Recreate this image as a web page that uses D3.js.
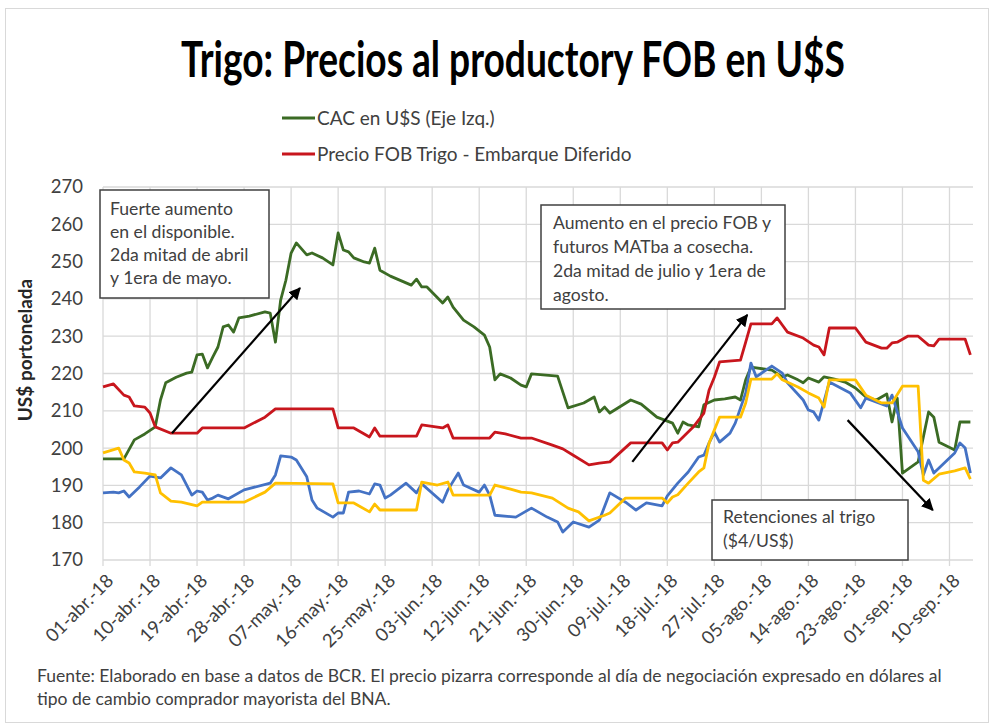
<!DOCTYPE html>
<html><head><meta charset="utf-8">
<script src="https://cdn.jsdelivr.net/npm/d3@7"></script>
<style>
body{margin:0;background:#fff}
svg{display:block}
text{font-family:Lato,'Noto Sans',sans-serif}
</style>
</head><body>
<svg id="chart" width="995" height="727"></svg>
<script>
// ---- data (day offset from 01-abr-2018, US$/t) ----
const tickDays = [0,9,18,27,36,45,54,63,72,81,90,99,108,117,126,135,144,153,162];
const tickLabels = ["01-abr.-18","10-abr.-18","19-abr.-18","28-abr.-18","07-may.-18","16-may.-18","25-may.-18","03-jun.-18","12-jun.-18","21-jun.-18","30-jun.-18","09-jul.-18","18-jul.-18","27-jul.-18","05-ago.-18","14-ago.-18","23-ago.-18","01-sep.-18","10-sep.-18"];
const yTicks = [170,180,190,200,210,220,230,240,250,260,270];

const cacUSD = [[0,197.1],[4,197.1],[6,202.2],[8,203.8],[10,205.7],[11,212.9],[12,217.5],[14,219],[16,220.1],[17,220.4],[18,225],[19,225.2],[20,221.5],[21,224.4],[22,227.1],[23,232.5],[24,233],[25,231.1],[26,234.9],[28,235.4],[31,236.5],[32,236.2],[33,228.4],[34,239.7],[35,245],[36,252.3],[37,255],[39,251.8],[40,252.3],[42,251],[44,249.1],[45,257.7],[46,253.1],[47,252.6],[48,251],[50,249.9],[51,249.6],[52,253.6],[53,247.7],[55,246.1],[59,243.7],[60,245.3],[61,243.2],[62,243.2],[65,238.9],[66,240.5],[67,237.8],[69,234.3],[71,232.5],[73,230.3],[74,227.1],[75,218.3],[76,219.9],[78,218.8],[80,216.9],[81,216.4],[82,219.9],[87,219.3],[89,210.8],[92,212.1],[94,213.7],[95,209.7],[96,211],[97,209.4],[101,212.9],[103,211.8],[106,208.3],[109,206.7],[110,204],[111,207],[112,206.2],[114,205.7],[115,211.6],[117,212.9],[119,213.2],[121,213.7],[122,212.9],[123,218.3],[124,221.7],[128,220.9],[130,219.1],[131,219.6],[133,218.3],[134,217.5],[135,218.8],[137,217.7],[138,219.1],[140,218.5],[142,217.7],[144,216.1],[146,213.7],[148,212.9],[150,214.5],[151,207],[152,213.4],[153,193.3],[156,196.3],[158,209.7],[159,208.3],[160,201.6],[163,199.5],[164,207],[166,207]];

const fobDiferido = [[0,216.4],[2,217.2],[4,214.2],[5,213.7],[6,211.3],[8,211],[9,209.4],[10,205.7],[13,204],[18,204],[19,205.4],[27,205.4],[31,208.3],[33,210.5],[44,210.5],[45,205.4],[48,205.4],[51,203],[52,205.4],[53,203.2],[60,203.2],[61,206.2],[65,205.4],[66,206.2],[67,202.7],[74,202.7],[75,204.3],[77,203.8],[80,202.7],[82,202.7],[86,200.8],[88,199.8],[90,198.1],[93,195.5],[95,196],[97,196.3],[101,201.4],[107,201.4],[108,199.5],[109,201.4],[110,201.6],[113,205.7],[115,209.4],[116,215.6],[117,219],[118,223.1],[122,223.6],[123,228.4],[124,233.3],[128,233.3],[129,234.9],[130,233],[131,231.1],[134,229.5],[136,227.6],[137,227.1],[138,225],[139,232.2],[144,232.2],[146,228.4],[149,226.8],[150,226.8],[151,228.2],[152,228.4],[154,230],[156,230],[158,227.6],[159,227.4],[160,229.2],[165,229.2],[166,225]];

const serieAzul = [[0,188],[2,188.2],[3,188],[4,188.5],[5,186.9],[7,189.6],[9,192.5],[11,192],[13,194.7],[15,192.8],[17,187.4],[18,188.5],[19,188.2],[20,186.1],[21,186.6],[22,187.4],[24,186.4],[27,188.8],[32,190.6],[33,192.8],[34,197.9],[36,197.6],[37,196.8],[39,192.3],[40,186.1],[41,183.9],[44,181.5],[45,182.6],[46,182.6],[47,188.2],[49,188.5],[51,187.7],[52,190.4],[53,190.1],[54,186.6],[55,187.4],[58,190.6],[60,188],[61,190.4],[65,185.5],[66,188.8],[68,193.3],[69,190.1],[72,188.2],[73,190.1],[74,187.4],[75,182],[79,181.5],[82,183.9],[85,181.5],[87,180.2],[88,177.5],[90,180.2],[93,178.8],[95,180.7],[97,188],[100,185.5],[102,183.4],[104,185.3],[107,184.5],[108,187.2],[110,190.6],[112,193.6],[114,197.6],[115,198.1],[116,201.4],[117,204.3],[118,201.6],[120,204],[121,206.7],[123,214.8],[124,222.8],[125,219.1],[128,222],[130,220.1],[131,217.5],[134,212.9],[135,210.2],[136,209.7],[137,207.5],[139,217.7],[143,214.8],[145,210.8],[146,213.4],[150,211.3],[151,214.2],[153,205.4],[156,199],[157,192.8],[158,196.8],[159,193.3],[163,198.7],[164,201.4],[165,200],[166,193.3]];

const serieAmarilla = [[0,198.7],[3,200],[4,196.8],[5,196],[6,193.6],[8,193.3],[10,192.8],[11,188],[13,185.8],[15,185.5],[18,184.5],[19,185.5],[27,185.5],[31,188.2],[33,190.6],[44,190.4],[45,185.3],[48,185.3],[51,182.9],[52,185],[53,183.4],[60,183.4],[61,190.9],[64,190.1],[66,190.9],[67,187.4],[74,187.4],[75,190.1],[78,189],[80,188.2],[82,188],[86,186.6],[89,183.9],[91,182.9],[93,180.5],[96,182],[97,182.6],[100,186.6],[107,186.6],[108,185.3],[109,186.9],[110,187.5],[112,190.6],[114,193.6],[115,194.7],[116,201.4],[118,208.3],[122,208.3],[123,212.1],[124,218.5],[128,218.5],[129,219.9],[130,218.3],[133,216.4],[135,214.8],[137,213.4],[138,211],[139,218.3],[144,218.3],[146,214.2],[149,212.1],[151,212.1],[153,216.6],[156,216.6],[157,191.4],[158,190.6],[160,193],[163,193.9],[165,194.7],[166,191.7]];

const legendLabels = ["CAC en U$S (Eje Izq.)","Precio FOB Trigo - Embarque Diferido"];
const titleText = "Trigo: Precios al productory FOB en U$S";
const yAxisTitle = "US$ portonelada";
const note1 = ["Fuerte aumento","en el disponible.","2da mitad de abril","y 1era de mayo."];
const note2 = ["Aumento en el precio FOB y","futuros MATba a cosecha.","2da mitad de julio y 1era de","agosto."];
const note3 = ["Retenciones al trigo","($4/US$)"];
const footer = ["Fuente: Elaborado en base a datos de BCR. El precio pizarra corresponde al día de negociación expresado en dólares al","tipo de cambio comprador mayorista del BNA."];

// ---- drawing ----
const svg = d3.select("#chart");
const C = {green:"#3b6b24", red:"#c8161d", blue:"#4472c4", yellow:"#ffc000", grid:"#d9d9d9", text:"#404040"};

const x = d3.scaleLinear().domain([0,166.5]).range([103,973]);
const y = d3.scaleLinear().domain([170,270]).range([560,187]);

// outer border
svg.append("rect").attr("x",5.5).attr("y",8.5).attr("width",983).attr("height",714)
  .attr("fill","none").attr("stroke","#d9d9d9");

// title (horizontally condensed to the reference width)
const title = svg.append("text").attr("font-size",50).attr("font-weight",700).attr("fill","#000")
  .attr("text-anchor","middle").text(titleText);
const tw = title.node().getComputedTextLength();
title.attr("transform",`translate(513,77) scale(${664/tw},1)`);

// legend
const legColors = [C.green, C.red];
legendLabels.forEach((t,i)=>{
  const ly = 118 + i*36;
  svg.append("line").attr("x1",282).attr("x2",315).attr("y1",ly).attr("y2",ly)
    .attr("stroke",legColors[i]).attr("stroke-width",3);
  svg.append("text").attr("x",317).attr("y",ly).attr("dy","0.35em")
    .attr("font-size",19).attr("fill",C.text).text(t);
});

// gridlines
svg.append("g").selectAll("line").data(yTicks).join("line")
  .attr("x1",x(0)).attr("x2",x.range()[1]).attr("y1",d=>y(d)).attr("y2",d=>y(d))
  .attr("stroke",C.grid).attr("stroke-width",1.3);
svg.append("g").selectAll("line").data(tickDays).join("line")
  .attr("x1",d=>x(d)).attr("x2",d=>x(d)).attr("y1",y(270)).attr("y2",y(170)+6)
  .attr("stroke",C.grid).attr("stroke-width",1.3);

// y axis
const yAxis = svg.append("g").attr("transform",`translate(${x(0)},0)`)
  .call(d3.axisLeft(y).tickValues(yTicks).tickSize(0).tickPadding(20).tickFormat(d3.format("d")));
yAxis.select(".domain").remove();
yAxis.selectAll("text").attr("font-size",18.5).attr("fill",C.text).attr("font-family","Lato,sans-serif");

// x axis labels
const xAxis = svg.append("g").attr("transform",`translate(0,${y(170)})`)
  .call(d3.axisBottom(x).tickValues(tickDays).tickSize(0).tickFormat((d,i)=>tickLabels[i]));
xAxis.select(".domain").remove();
xAxis.selectAll("text").attr("font-size",18.5).attr("fill",C.text).attr("font-family","Lato,sans-serif")
  .attr("text-anchor","end").attr("dy",0).attr("y",0)
  .attr("transform","translate(11,22) rotate(-45)");

// y axis title
svg.append("text").attr("transform","translate(32,350) rotate(-90)").attr("text-anchor","middle")
  .attr("font-size",19).attr("font-weight",700).attr("fill","#262626").text(yAxisTitle);

// series
const line = d3.line().x(d=>x(d[0])).y(d=>y(d[1]));
const series = [[cacUSD,C.green],[fobDiferido,C.red],[serieAzul,C.blue],[serieAmarilla,C.yellow]];
series.forEach(([data,col])=>{
  svg.append("path").datum(data).attr("d",line).attr("fill","none")
    .attr("stroke",col).attr("stroke-width",2.8).attr("stroke-linejoin","round");
});

// arrows (in data coordinates)
svg.append("defs").append("marker").attr("id","ah").attr("viewBox","0 0 10 10")
  .attr("refX",9).attr("refY",5).attr("markerWidth",5.5).attr("markerHeight",5.5).attr("orient","auto")
  .append("path").attr("d","M0,0L10,5L0,10z").attr("fill","#000");
const arrows = [[[13.2,204],[37.7,242.9]],[[101.3,196.3],[123.3,235.7]],[[142.5,207.5],[158.8,183.4]]];
arrows.forEach(a=>{
  svg.append("line").attr("x1",x(a[0][0])).attr("y1",y(a[0][1])).attr("x2",x(a[1][0])).attr("y2",y(a[1][1]))
    .attr("stroke","#000").attr("stroke-width",2.2).attr("marker-end","url(#ah)");
});

// notes
function note(lines, bx, by, bw, bh, tx, ty, lh){
  svg.append("rect").attr("x",bx).attr("y",by).attr("width",bw).attr("height",bh)
    .attr("fill","#fff").attr("stroke","#404040").attr("stroke-width",1.5);
  lines.forEach((t,i)=>svg.append("text").attr("x",tx).attr("y",ty+i*lh)
    .attr("font-size",17.6).attr("fill",C.text).text(t));
}
note(note1, 100, 190, 169, 108, 110, 215, 23);
note(note2, 541, 205, 244, 104, 553, 229, 24);
note(note3, 712, 500, 196, 60, 723, 523, 24);

// footer (font sized so the first line spans the reference width)
const f0 = svg.append("text").attr("x",37).attr("y",682).attr("font-size",16).attr("fill",C.text).text(footer[0]);
const fs = 16 * 905 / f0.node().getComputedTextLength();
f0.attr("font-size",fs);
svg.append("text").attr("x",37).attr("y",705).attr("font-size",fs).attr("fill",C.text).text(footer[1]);
</script>
</body></html>
